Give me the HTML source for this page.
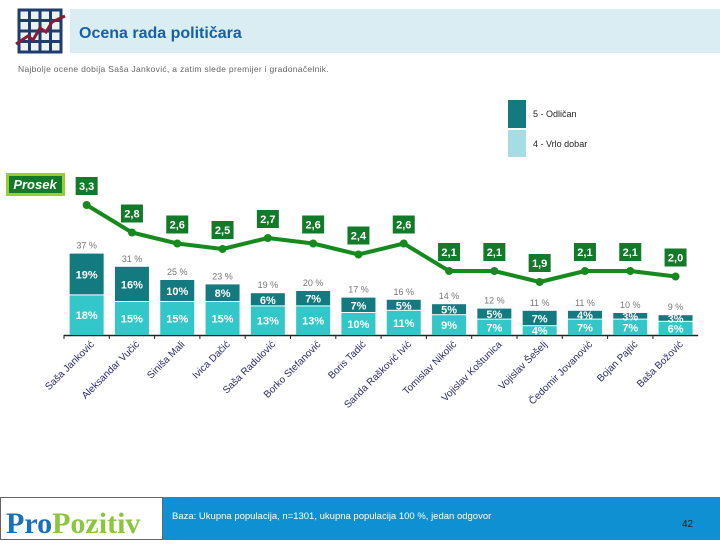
<!DOCTYPE html>
<html><head><meta charset="utf-8"><style>
body{margin:0;width:720px;height:540px;overflow:hidden;background:#fff;font-family:"Liberation Sans",sans-serif}
</style></head><body>
<svg width="720" height="540" viewBox="0 0 720 540" xmlns="http://www.w3.org/2000/svg" font-family="Liberation Sans, sans-serif">
<g>
<rect x="70" y="9" width="650" height="44" fill="#d9edf2"/>
<g stroke="#1e3d6e" stroke-width="3" fill="none">
<rect x="19" y="10" width="42" height="42" fill="#eaf3f0"/>
<line x1="29.5" y1="10" x2="29.5" y2="52"/><line x1="40" y1="10" x2="40" y2="52"/><line x1="50.5" y1="10" x2="50.5" y2="52"/>
<line x1="19" y1="20.5" x2="61" y2="20.5"/><line x1="19" y1="31" x2="61" y2="31"/><line x1="19" y1="41.5" x2="61" y2="41.5"/>
<polyline points="16,44 28,36 33,40 40,28 46,32 52,22 65,16" stroke="#8a1a3a" stroke-width="3"/>
</g>
<text x="79" y="38" font-size="16" font-weight="bold" fill="#1560a8">Ocena rada političara</text>
<text x="18" y="72" font-size="8.5" fill="#666" letter-spacing="0.3">Najbolje ocene dobija Saša Janković, a zatim slede premijer i gradonačelnik.</text>
</g>
<g>
<rect x="508" y="100" width="18" height="28" fill="#137a80"/>
<text x="533" y="117" font-size="9" fill="#222">5 - Odličan</text>
<rect x="508" y="130" width="18" height="27" fill="#a6dde3"/>
<text x="533" y="147" font-size="9" fill="#222">4 - Vrlo dobar</text>
</g>
<g>
<rect x="6" y="173" width="59" height="23" fill="#9acd32"/>
<rect x="9" y="176" width="53" height="17" fill="#137a2a"/>
<text x="35" y="189" font-size="13" font-weight="bold" font-style="italic" fill="#fff" text-anchor="middle">Prosek</text>
</g>
<g id="chart"></g>
<g>
<rect x="0.5" y="497.5" width="162" height="42" fill="#fff" stroke="#666"/>
<text x="6" y="533" font-size="30" font-weight="bold" font-family="Liberation Serif, serif" fill="#1a6fb8">Pro<tspan fill="#8cc63f">Pozitiv</tspan></text>
<rect x="163" y="497" width="557" height="43" fill="#0e90d2"/>
<text x="172" y="519" font-size="9.5" fill="#fff">Baza: Ukupna populacija, n=1301, ukupna populacija 100 %, jedan odgovor</text>
<text x="682" y="527" font-size="10" fill="#222">42</text>
</g>
</svg>
<script>
const names=["Saša Janković","Aleksandar Vučić","Siniša Mali","Ivica Dačić","Saša Radulović","Borko Stefanović","Boris Tadić","Sanda Rašković Ivić","Tomislav Nikolić","Vojislav Koštunica","Vojislav Šešelj","Čedomir Jovanović","Bojan Pajtić","Baša Božović"];
const grade4=[18,15,15,15,13,13,10,11,9,7,4,7,7,6];
const grade5=[19,16,10,8,6,7,7,5,5,5,7,4,3,3];
const totals=[37,31,25,23,19,20,17,16,14,12,11,11,10,9];
const avg=[3.3,2.8,2.6,2.5,2.7,2.6,2.4,2.6,2.1,2.1,1.9,2.1,2.1,2.0];
const NS="http://www.w3.org/2000/svg";
const g=document.getElementById('chart');
const x0=64,step=45.3,base=335,pxPct=2.2,bw=34;
const xc=i=>x0+step*(i+0.5);
const yb=v=>base-v*pxPct;
const yl=v=>205+(3.3-v)*55;
function mk(t,a,p){const e=document.createElementNS(NS,t);for(const k in a)e.setAttribute(k,a[k]);(p||g).appendChild(e);return e;}
const axis=mk('line',{x1:x0,y1:base+0.5,x2:x0+step*names.length,y2:base+0.5,stroke:'#222','stroke-width':1.5});


names.forEach((n,i)=>{
  const tk=mk('line',{x1:x0+step*i,y1:base,x2:x0+step*i,y2:base+4,stroke:'#222'});
  
  
  const c=xc(i);
  const b4=mk('rect',{x:c-bw/2,y:yb(grade4[i]),width:bw,height:grade4[i]*pxPct,fill:'#33c7c9'});
  
  
  const b5=mk('rect',{x:c-bw/2,y:yb(grade4[i]+grade5[i]),width:bw,height:grade5[i]*pxPct-1,fill:'#137a80'});
  
  
  const t4=mk('text',{x:c,y:yb(grade4[i]/2)+4,'font-size':11,'font-weight':'bold',fill:'#fff','text-anchor':'middle'});
  t4.textContent=grade4[i]+'%';
  
  
  const t5=mk('text',{x:c,y:yb(grade4[i]+grade5[i]/2)+4,'font-size':11,'font-weight':'bold',fill:'#fff','text-anchor':'middle'});
  t5.textContent=grade5[i]+'%';
  
  
  const tt=mk('text',{x:c,y:yb(totals[i])-5,'font-size':9,fill:'#777','text-anchor':'middle'});
  tt.textContent=totals[i]+' %';
  
  
  const lb=mk('text',{x:c+8,y:base+10,'font-size':10,fill:'#2a2a6a','text-anchor':'end',transform:`rotate(-45 ${c+8} ${base+10})`});
  lb.textContent=n;
  
  
});
const line=mk('polyline',{points:avg.map((v,i)=>xc(i)+','+yl(v)).join(' '),fill:'none',stroke:'#178a1e','stroke-width':4,'stroke-linejoin':'round'});


avg.forEach((v,i)=>{
  const c=xc(i),y=yl(v);
  const d=mk('circle',{cx:c,cy:y,r:4,fill:'#178a1e'});
  
  
  const bx=mk('rect',{x:c-11,y:y-28,width:22,height:18,fill:'#137a2a'});
  
  
  const t=mk('text',{x:c,y:y-15,'font-size':11,'font-weight':'bold',fill:'#fff','text-anchor':'middle'});
  t.textContent=v.toFixed(1).replace('.',',');
  
  
});
</script>
</body></html>
